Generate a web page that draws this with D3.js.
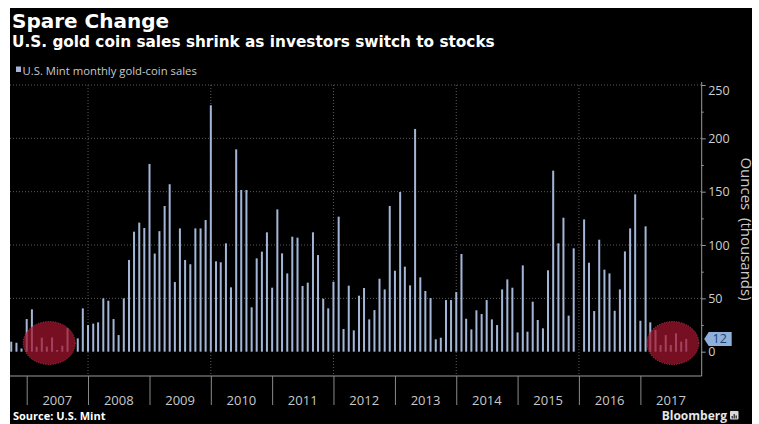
<!DOCTYPE html>
<html>
<head>
<meta charset="utf-8">
<script src="https://cdn.jsdelivr.net/npm/d3@7"></script>
<style>
  body { margin: 0; background: #fff; }
  svg { font-family: "Open Sans", "DejaVu Sans", sans-serif; }
</style>
</head>
<body>
<svg id="chart" width="759" height="424"></svg>
<script>
// U.S. Mint monthly gold-coin sales, thousands of ounces (null = no bar shown)
const firstMonth = "2006-10";
const sales2006 = [9.4, 8.4, 3];
const sales2007 = [30.6, 39.7, 4.7, 13.1, 4.7, 13.4, 1.6, 5.6, 21.9, null, 12.5, 40.6];
const sales2008 = [25, 26.3, 27.5, 50, 47.8, 30.6, 15.6, 50, 86, 112.5, 121, 116];
const sales2009 = [176, 92, 113, 136.6, 157, 65.3, 115.6, 86, 82, 115.6, 115.6, 123.4];
const sales2010 = [231, 84.7, 83.8, 101.6, 60.3, 189.7, 151.6, 151.6, 41.6, 87.5, 93.8, 111.9];
const sales2011 = [60, 133.4, 92.2, 73.4, 107.8, 106.9, 61.6, 64.7, 111.9, 90.6, 49.7, 40.6];
const sales2012 = [65.6, 126.6, 21.3, 61.9, 20, 52.5, 59.7, 30.3, 39, 68.4, 58.4, 136.6];
const sales2013 = [75.9, 149.7, 79.7, 62.2, 208.8, 69.7, 56.9, 50.3, 11.6, 13.1, 48.4, 48.4];
const sales2014 = [55.9, 91.6, 30.9, 20.9, 38.8, 35.3, 48.4, 30.3, 25, 58.4, 67.8, 60];
const sales2015 = [18.1, 80.9, 18.8, 46.9, 29.7, 21.9, 76.3, 169.7, 101.6, 125.6, 33.8, 96.9];
const sales2016 = [null, 124, 83.4, 38.1, 105, 76.9, 73.4, 38.4, 58.4, 94, 115.6, 147.5];
const sales2017 = [29, 117.5, 27.5, 20.3, 6.3, 15.6, 6.3, 17.2, 9.4, 12];

const years = [2007, 2008, 2009, 2010, 2011, 2012, 2013, 2014, 2015, 2016, 2017];
const gridYears = [2008, 2010, 2012, 2014, 2016];
const yTicks = [0, 50, 100, 150, 200, 250];
const yMinorTicks = [25, 75, 125, 175, 225];
const lastValueLabel = "12";
const highlightYears = [2007, 2017];

const allSales = [].concat(sales2006, sales2007, sales2008, sales2009, sales2010, sales2011,
  sales2012, sales2013, sales2014, sales2015, sales2016, sales2017);
const start = d3.utcParse("%Y-%m")(firstMonth);
const rows = allSales.map((v, i) => ({ date: d3.utcMonth.offset(start, i), value: v }));

const barColor = "#a3b6d8";
const bold = "'DejaVu Sans', sans-serif";
const svg = d3.select("#chart");

// black panel
svg.append("rect").attr("x", 10).attr("y", 8).attr("width", 742).attr("height", 416).attr("fill", "#000");

const jan = yr => new Date(Date.UTC(yr, 0, 1));
const x = d3.scaleUtc().domain([jan(2007), jan(2018)]).range([26.7, 701.7]);
const y = d3.scaleLinear().domain([0, 250]).range([351.7, 85]);
const plotLeft = 10, plotRight = 701.7, axisY = 376;

// horizontal dotted grid
svg.append("g").selectAll("line").data(yTicks.filter(d => d > 0)).join("line")
  .attr("x1", plotLeft).attr("x2", plotRight)
  .attr("y1", d => y(d)).attr("y2", d => y(d))
  .attr("stroke", "#5c5c5c").attr("stroke-width", 1).attr("stroke-dasharray", "1,2");

// vertical dotted grid every other year
svg.append("g").selectAll("line").data(gridYears).join("line")
  .attr("x1", d => x(jan(d))).attr("x2", d => x(jan(d)))
  .attr("y1", y(250)).attr("y2", axisY)
  .attr("stroke", "#5c5c5c").attr("stroke-width", 1).attr("stroke-dasharray", "1,2");

// bars
svg.append("g").selectAll("rect").data(rows.filter(d => d.value != null)).join("rect")
  .attr("x", d => x(d.date) - 1).attr("width", 2)
  .attr("y", d => y(d.value)).attr("height", d => y(0) - y(d.value))
  .attr("fill", barColor);

// highlight ellipses over the two low-sales stretches
const ellipseCx = { 2007: x(new Date(Date.UTC(2007, 4, 15))), 2017: x(new Date(Date.UTC(2017, 6, 1))) + 2 };
svg.append("g").selectAll("ellipse").data(highlightYears).join("ellipse")
  .attr("cx", d => ellipseCx[d])
  .attr("cy", 343).attr("rx", 26).attr("ry", 21.5)
  .attr("fill", "#a3152e").attr("fill-opacity", 0.72)
  .attr("stroke", "#c4485c").attr("stroke-width", 0.8).attr("stroke-dasharray", "1,1.5");

// bottom axis: baseline and year ticks
svg.append("line").attr("x1", plotLeft).attr("x2", plotRight).attr("y1", axisY).attr("y2", axisY)
  .attr("stroke", "#9a9a9a").attr("stroke-width", 1);
const xAxis = d3.axisBottom(x).tickValues(years.map(jan)).tickSize(29).tickFormat("");
const gx = svg.append("g").attr("transform", `translate(0,${axisY})`).call(xAxis);
gx.select(".domain").remove();
gx.selectAll(".tick line").attr("stroke", "#8a8a8a");
svg.append("g").selectAll("text").data(years).join("text")
  .attr("x", d => x(new Date(Date.UTC(d, 6, 2))))
  .attr("y", 404.5).attr("text-anchor", "middle")
  .attr("font-size", 13).attr("fill", "#c9c9c9")
  .text(d => d);

// right value axis
svg.append("line").attr("x1", plotRight).attr("x2", plotRight).attr("y1", 82).attr("y2", axisY)
  .attr("stroke", "#9a9a9a").attr("stroke-width", 1);
const yAxis = d3.axisRight(y).tickValues(yTicks).tickSize(4).tickPadding(2.5);
const gy = svg.append("g").attr("transform", `translate(${plotRight},0)`).call(yAxis);
gy.select(".domain").remove();
gy.selectAll(".tick line").attr("stroke", "#9a9a9a");
gy.selectAll(".tick text")
  .style("font-family", "'Open Sans', sans-serif").style("font-size", "12.5px")
  .attr("fill", "#cfcfcf")
  .attr("dy", d => d === 250 ? "0.75em" : "0.32em");
const gyMinor = svg.append("g").attr("transform", `translate(${plotRight},0)`)
  .call(d3.axisRight(y).tickValues(yMinorTicks).tickSize(2).tickFormat(""));
gyMinor.select(".domain").remove();
gyMinor.selectAll(".tick line").attr("stroke", "#9a9a9a");

svg.append("text")
  .attr("transform", `translate(741,229) rotate(90)`)
  .attr("text-anchor", "middle").attr("font-size", 15).attr("fill", "#c9c9c9")
  .attr("xml:space", "preserve")
  .text("Ounces  (thousands)");

// last value tag
const ty = y(+lastValueLabel);
svg.append("path")
  .attr("d", `M${plotRight + 2.5},${ty} L${plotRight + 7},${ty - 7} L${plotRight + 30},${ty - 7} L${plotRight + 30},${ty + 7} L${plotRight + 7},${ty + 7} Z`)
  .attr("fill", "#8fb0db");
svg.append("text").attr("x", plotRight + 18).attr("y", ty).attr("dy", "0.35em")
  .attr("text-anchor", "middle").attr("font-size", 12.5).attr("fill", "#1d3f73")
  .text(lastValueLabel);

// titles
svg.append("text").attr("x", 12).attr("y", 28)
  .style("font-family", bold).style("font-weight", "bold").style("font-size", "20px")
  .attr("fill", "#fff").text("Spare Change");
svg.append("text").attr("x", 12).attr("y", 47)
  .style("font-family", bold).style("font-weight", "bold").style("font-size", "15.3px")
  .attr("fill", "#fff").text("U.S. gold coin sales shrink as investors switch to stocks");

// legend
svg.append("rect").attr("x", 16).attr("y", 66.5).attr("width", 5).attr("height", 5.5).attr("fill", barColor);
svg.append("text").attr("x", 22.5).attr("y", 74.5).attr("font-size", 11.3).attr("fill", "#c9c9c9")
  .text("U.S. Mint monthly gold-coin sales");

// footer
svg.append("text").attr("x", 13).attr("y", 420)
  .style("font-family", "'Open Sans', sans-serif").style("font-weight", "bold").style("font-size", "11px")
  .attr("fill", "#fff").text("Source: U.S. Mint");
svg.append("text").attr("x", 727).attr("y", 420).attr("text-anchor", "end")
  .style("font-family", "'Open Sans', sans-serif").style("font-weight", "bold").style("font-size", "12px")
  .attr("fill", "#e6e6e6").text("Bloomberg");
const logo = svg.append("g").attr("transform", "translate(730,411)");
logo.append("rect").attr("width", 8.5).attr("height", 8.5).attr("rx", 1).attr("fill", "#d9d9d9");
logo.selectAll("line").data([[2.2, 5], [4.2, 3], [6.2, 4.5]]).join("line")
  .attr("x1", d => d[0]).attr("x2", d => d[0]).attr("y1", 7.5).attr("y2", d => d[1])
  .attr("stroke", "#222").attr("stroke-width", 1.2);
</script>
</body>
</html>
